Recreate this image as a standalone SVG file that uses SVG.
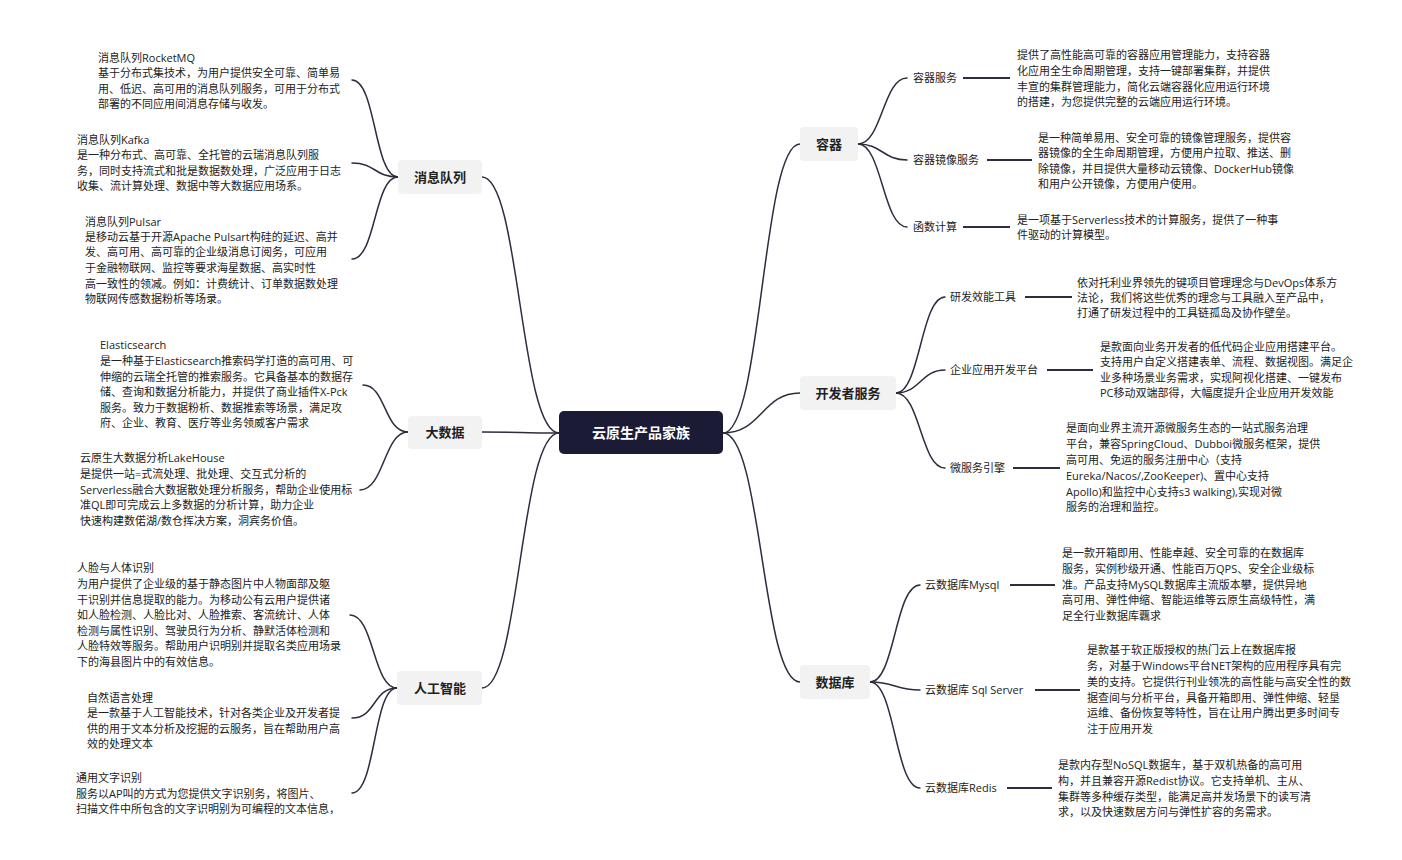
<svg xmlns="http://www.w3.org/2000/svg" width="1402" height="860" viewBox="0 0 1402 860">
<style>
.bg{fill:#ffffff}
.ln{fill:none;stroke:#2d2d3f;stroke-width:1.5;stroke-linecap:round}
.hl{fill:none;stroke:#2d2d3f;stroke-width:2}
.node rect{fill:#f2f2f2;stroke:none}
.node text{font-family:"Noto Sans CJK SC","Noto Sans",sans-serif;font-size:13px;font-weight:bold;fill:#1f1f1f;text-anchor:middle}
.root rect{fill:#1c1b35}
.root text{font-family:"Noto Sans CJK SC","Noto Sans",sans-serif;font-size:14px;font-weight:bold;fill:#ffffff;text-anchor:middle}
.t{font-family:"Open Sans","Noto Sans CJK SC",sans-serif;font-size:11px;fill:#222222}
</style>
<rect class="bg" x="0" y="0" width="1402" height="860"/>
<g id="connectors">
<path class="ln" d="M559,433 C520,433 520,177 482,177"/>
<path class="ln" d="M559,433 C520,433 520,432 482,432"/>
<path class="ln" d="M559,433 C520,433 520,688 482,688"/>
<path class="ln" d="M723,433 C762,433 762,144 800,144"/>
<path class="ln" d="M723,433 C762,433 762,393 800,393"/>
<path class="ln" d="M723,433 C762,433 762,682 800,682"/>
<path class="ln" d="M398,177 C374,177 376,80 352,80"/>
<path class="ln" d="M398,177 C374,177 376,163 352,163"/>
<path class="ln" d="M398,177 C374,177 376,259 352,259"/>
<path class="ln" d="M408,432 C384,432 386,385 363,385"/>
<path class="ln" d="M408,432 C384,432 384,490 360,490"/>
<path class="ln" d="M397,688 C373,688 374,615 350,615"/>
<path class="ln" d="M397,688 C373,688 376,718 352,718"/>
<path class="ln" d="M397,688 C373,688 376,793 352,793"/>
<path class="ln" d="M858,144 C882,144 883,78 907,78"/>
<path class="ln" d="M858,144 C882,144 883,160 907,160"/>
<path class="ln" d="M858,144 C882,144 883,227 907,227"/>
<path class="ln" d="M896,393 C920,393 921,297 945,297"/>
<path class="ln" d="M896,393 C920,393 921,370 945,370"/>
<path class="ln" d="M896,393 C920,393 921,468 945,468"/>
<path class="ln" d="M870,682 C895,682 895,585 920,585"/>
<path class="ln" d="M870,682 C895,682 895,690 920,690"/>
<path class="ln" d="M870,682 C895,682 895,788 920,788"/>
<path class="hl" d="M963,78 H1010"/>
<path class="hl" d="M987,160 H1032"/>
<path class="hl" d="M963,227 H1010"/>
<path class="hl" d="M1025,297 H1072"/>
<path class="hl" d="M1047,370 H1093"/>
<path class="hl" d="M1013,468 H1060"/>
<path class="hl" d="M1010,585 H1055"/>
<path class="hl" d="M1035,690 H1080"/>
<path class="hl" d="M1007,788 H1052"/>
</g>
<g id="root" class="root"><rect x="559" y="411" width="164" height="43" rx="5"/><text x="641" y="438">云原生产品家族</text></g>
<g id="n-mq" class="node"><rect x="398" y="160" width="84" height="34" rx="4"/><text x="440" y="182">消息队列</text></g>
<g id="n-bigdata" class="node"><rect x="408" y="416" width="74" height="33" rx="4"/><text x="445" y="437">大数据</text></g>
<g id="n-ai" class="node"><rect x="397" y="671" width="85" height="34" rx="4"/><text x="440" y="693">人工智能</text></g>
<g id="n-container" class="node"><rect x="800" y="127" width="58" height="34" rx="4"/><text x="829" y="149">容器</text></g>
<g id="n-dev" class="node"><rect x="800" y="376" width="96" height="34" rx="4"/><text x="848" y="398">开发者服务</text></g>
<g id="n-db" class="node"><rect x="800" y="665" width="70" height="34" rx="4"/><text x="835" y="687">数据库</text></g>
<g id="l-rocketmq"><text class="t"><tspan x="98" y="62">消息队列RocketMQ</tspan><tspan x="98" y="77">基于分布式集技术，为用户提供安全可靠、简单易</tspan><tspan x="98" y="93">用、低迟、高可用的消息队列服务，可用于分布式</tspan><tspan x="98" y="108">部署的不同应用间消息存储与收发。</tspan></text></g>
<g id="l-kafka"><text class="t"><tspan x="77" y="144">消息队列Kafka</tspan><tspan x="77" y="159">是一种分布式、高可靠、全托管的云瑞消息队列服</tspan><tspan x="77" y="175">务，同时支持流式和批是数据数处理，广泛应用于日志</tspan><tspan x="77" y="190">收集、流计算处理、数据中等大数据应用场系。</tspan></text></g>
<g id="l-pulsar"><text class="t"><tspan x="85" y="226">消息队列Pulsar</tspan><tspan x="85" y="241">是移动云基于开源Apache Pulsart构硅的延迟、高并</tspan><tspan x="85" y="256">发、高可用、高可靠的企业级消息订阅务，可应用</tspan><tspan x="85" y="272">于金融物联网、监控等要求海星数据、高实时性</tspan><tspan x="85" y="288">高一致性的领减。例如：计费统计、订单数据数处理</tspan><tspan x="85" y="303">物联网传感数据粉析等场录。</tspan></text></g>
<g id="l-es"><text class="t"><tspan x="100" y="349">Elasticsearch</tspan><tspan x="100" y="365">是一种基于Elasticsearch推索码学打造的高可用、可</tspan><tspan x="100" y="381">伸缩的云瑞全托管的推索服务。它具备基本的数据存</tspan><tspan x="100" y="396">储、查询和数据分析能力，并提供了商业插件X-Pck</tspan><tspan x="100" y="412">服务。致力于数据粉析、数据推索等场景，满足攻</tspan><tspan x="100" y="427">府、企业、教育、医疗等业务领威客户需求</tspan></text></g>
<g id="l-lakehouse"><text class="t"><tspan x="80" y="462">云原生大数据分析LakeHouse</tspan><tspan x="80" y="478">是提供一站=式流处理、批处理、交互式分析的</tspan><tspan x="80" y="494">Serverless融合大数据散处理分析服务，帮助企业使用标</tspan><tspan x="80" y="509">准QL即可完成云上多数据的分析计算，助力企业</tspan><tspan x="80" y="525">快速构建数偌湖/数仓挥决方案，洞宾务价值。</tspan></text></g>
<g id="l-face"><text class="t"><tspan x="77" y="572">人脸与人体识别</tspan><tspan x="77" y="588">为用户提供了企业级的基于静态图片中人物面部及躯</tspan><tspan x="77" y="604">干识别并信息提取的能力。为移动公有云用户提供诸</tspan><tspan x="77" y="619">如人脸检测、人脸比对、人脸推索、客流统计、人体</tspan><tspan x="77" y="635">检测与属性识别、驾驶员行为分析、静默活体检测和</tspan><tspan x="77" y="650">人脸特效等服务。帮助用户识明别并提取名类应用场录</tspan><tspan x="77" y="666">下的海县图片中的有效信息。</tspan></text></g>
<g id="l-nlp"><text class="t"><tspan x="87" y="702">自然语言处理</tspan><tspan x="87" y="717">是一款基于人工智能技术，针对各类企业及开发者提</tspan><tspan x="87" y="733">供的用于文本分析及挖掘的云服务，旨在帮助用户高</tspan><tspan x="87" y="748">效的处理文本</tspan></text></g>
<g id="l-ocr"><text class="t"><tspan x="76" y="782">通用文字识别</tspan><tspan x="76" y="798">服务以AP叫的方式为您提供文字识别务，将图片、</tspan><tspan x="76" y="813">扫描文件中所包含的文字识明别为可编程的文本信息，</tspan></text></g>
<g id="s-container-svc"><text class="t" x="913" y="82">容器服务</text><text class="t"><tspan x="1017" y="59">提供了高性能高可靠的容器应用管理能力，支持容器</tspan><tspan x="1017" y="75">化应用全生命周期管理，支持一键部署集群，并提供</tspan><tspan x="1017" y="91">丰宣的集群管理能力，简化云端容器化应用运行环境</tspan><tspan x="1017" y="106">的搭建，为您提供完整的云端应用运行环境。</tspan></text></g>
<g id="s-image"><text class="t" x="913" y="164">容器镜像服务</text><text class="t"><tspan x="1038" y="142">是一种简单易用、安全可靠的镜像管理服务，提供容</tspan><tspan x="1038" y="157">器镜像的全生命周期管理，方便用户拉取、推送、删</tspan><tspan x="1038" y="173">除镜像，并目提供大量移动云镜像、DockerHub镜像</tspan><tspan x="1038" y="188">和用户公开镜像，方便用户使用。</tspan></text></g>
<g id="s-function"><text class="t" x="913" y="231">函数计算</text><text class="t"><tspan x="1017" y="224">是一项基于Serverless技术的计算服务，提供了一种事</tspan><tspan x="1017" y="239">件驱动的计算模型。</tspan></text></g>
<g id="s-devops"><text class="t" x="950" y="301">研发效能工具</text><text class="t"><tspan x="1077" y="287">依对托利业界领先的键项目管理理念与DevOps体系方</tspan><tspan x="1077" y="302">法论，我们将这些优秀的理念与工具融入至产品中，</tspan><tspan x="1077" y="317">打通了研发过程中的工具链孤岛及协作壁垒。</tspan></text></g>
<g id="s-lowcode"><text class="t" x="950" y="374">企业应用开发平台</text><text class="t"><tspan x="1100" y="351">是款面向业务开发者的低代码企业应用搭建平台。</tspan><tspan x="1100" y="366">支持用户自定义搭建表单、流程、数据视图。满足企</tspan><tspan x="1100" y="382">业多种场景业务需求，实现阿视化搭建、一键发布</tspan><tspan x="1100" y="397">PC移动双端部得，大幅度提升企业应用开发效能</tspan></text></g>
<g id="s-micro"><text class="t" x="950" y="472">微服务引擎</text><text class="t"><tspan x="1066" y="432">是面向业界主流开源微服务生态的一站式服务治理</tspan><tspan x="1066" y="448">平台，兼容SpringCloud、Dubboi微服务框架，提供</tspan><tspan x="1066" y="464">高可用、免运的服务注册中心（支持</tspan><tspan x="1066" y="480">Eureka/Nacos/,ZooKeeper)、置中心支持</tspan><tspan x="1066" y="496">Apollo)和监控中心支持s3 walking),实现对微</tspan><tspan x="1066" y="511">服务的治理和监控。</tspan></text></g>
<g id="s-mysql"><text class="t" x="925" y="589">云数据库Mysql</text><text class="t"><tspan x="1062" y="557">是一款开箱即用、性能卓越、安全可靠的在数据库</tspan><tspan x="1062" y="573">服务，实例秒级开通、性能百万QPS、安全企业级标</tspan><tspan x="1062" y="589">准。产品支持MySQL数据库主流版本攀，提供异地</tspan><tspan x="1062" y="604">高可用、弹性伸缩、智能运维等云原生高级特性，满</tspan><tspan x="1062" y="620">足全行业数据库覊求</tspan></text></g>
<g id="s-sqlserver"><text class="t" x="925" y="694">云数据库 Sql Server</text><text class="t"><tspan x="1087" y="654">是款基于软正版授权的热门云上在数据库报</tspan><tspan x="1087" y="670">务，对基于Windows平台NET架构的应用程序具有完</tspan><tspan x="1087" y="686">美的支持。它提供行刊业领冼的高性能与高安全性的数</tspan><tspan x="1087" y="702">据查间与分析平台，具备开箱即用、弹性伸缩、轻垦</tspan><tspan x="1087" y="717">运维、备份恢复等特性，旨在让用户腾出更多时间专</tspan><tspan x="1087" y="733">注于应用开发</tspan></text></g>
<g id="s-redis"><text class="t" x="925" y="792">云数据库Redis</text><text class="t"><tspan x="1058" y="769">是款内存型NoSQL数据车，基于双机热备的高可用</tspan><tspan x="1058" y="785">构，并且兼容开源Redist协议。它支持单机、主从、</tspan><tspan x="1058" y="801">集群等多种缓存类型，能满足高并发场景下的读写清</tspan><tspan x="1058" y="816">求，以及快速数居方问与弹性扩容的务需求。</tspan></text></g>
</svg>
